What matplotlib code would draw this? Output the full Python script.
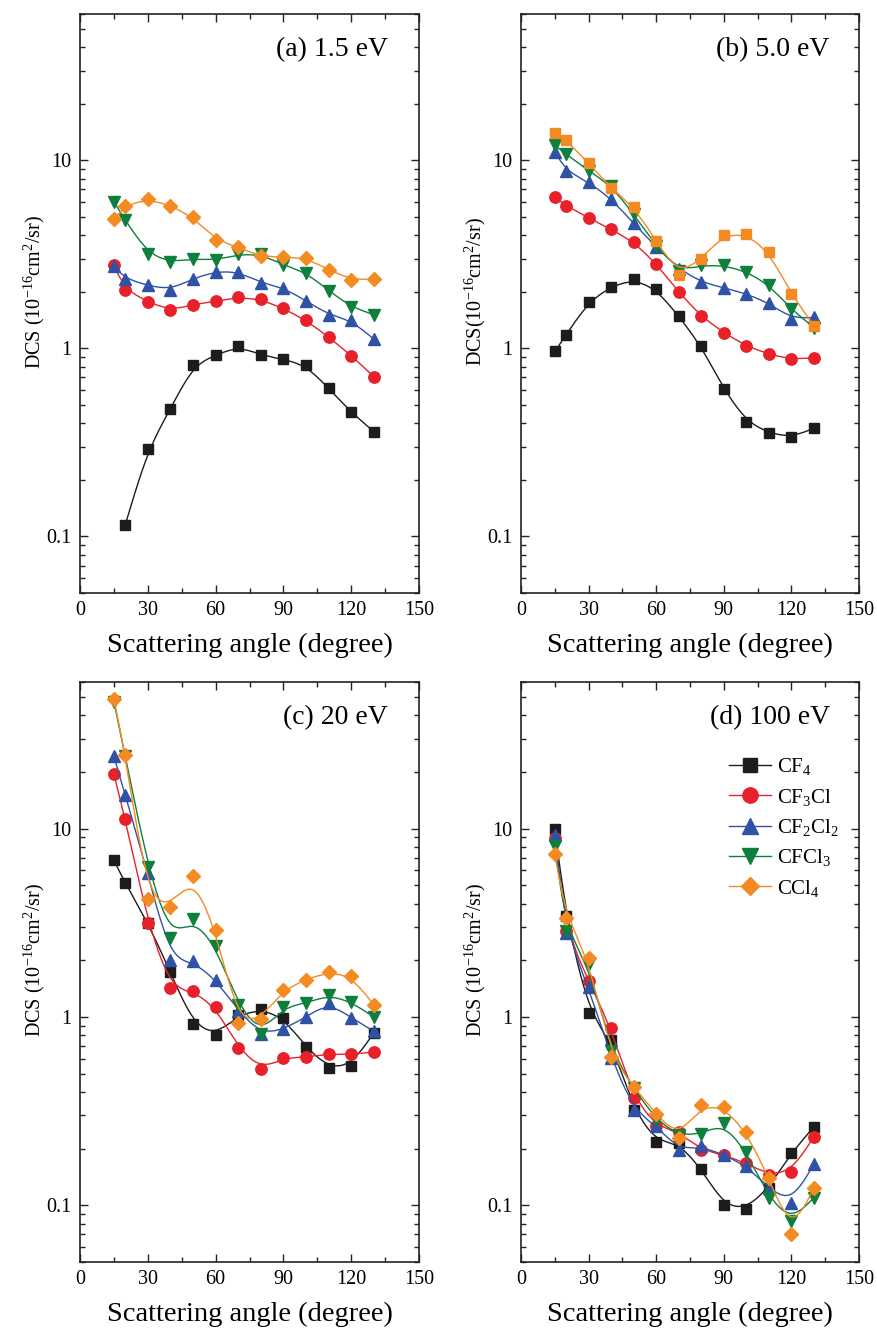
import numpy as np
import matplotlib
matplotlib.use("Agg")
import matplotlib.pyplot as plt
from matplotlib.ticker import FixedLocator, FixedFormatter, NullFormatter

plt.rcParams['font.family'] = ['Liberation Serif', 'DejaVu Serif']
plt.rcParams['mathtext.fontset'] = 'custom'
plt.rcParams['mathtext.rm'] = 'Liberation Serif'
plt.rcParams['mathtext.it'] = 'Liberation Serif:italic'
plt.rcParams['mathtext.bf'] = 'Liberation Serif:bold'

# ---------------- data ----------------
angles = [15, 20, 30, 40, 50, 60, 70, 80, 90, 100, 110, 120, 130]
angles_a_cf4 = [20, 30, 40, 50, 60, 70, 80, 90, 100, 110, 120, 130]

species = ['CF$_4$', 'CF$_3$Cl', 'CF$_2$Cl$_2$', 'CFCl$_3$', 'CCl$_4$']
colors = ['#1c1c1c', '#e8202a', '#2f52a6', '#0e7f3c', '#f38a22']
markers = ['s', 'o', '^', 'v', 'D']

# (a) 1.5 eV
a_CF4 = [0.115, 0.291, 0.474, 0.813, 0.919, 1.026, 0.923, 0.874, 0.813, 0.613, 0.457, 0.361]
a_CF3Cl = [2.76, 2.05, 1.77, 1.59, 1.71, 1.78, 1.87, 1.82, 1.63, 1.41, 1.15, 0.916, 0.708]
a_CF2Cl2 = [2.73, 2.35, 2.16, 2.05, 2.35, 2.56, 2.56, 2.23, 2.10, 1.79, 1.51, 1.41, 1.12]
a_CFCl3 = [6.02, 4.81, 3.19, 2.87, 3.00, 2.94, 3.16, 3.16, 2.78, 2.53, 2.03, 1.66, 1.51]
a_CCl4 = [4.88, 5.75, 6.23, 5.75, 4.98, 3.79, 3.44, 3.09, 3.05, 3.02, 2.62, 2.32, 2.33]

# (b) 5.0 eV
b_CF4 = [0.963, 1.18, 1.77, 2.13, 2.33, 2.07, 1.48, 1.03, 0.606, 0.408, 0.355, 0.336, 0.376]
b_CF3Cl = [6.36, 5.75, 4.94, 4.30, 3.68, 2.82, 1.99, 1.48, 1.21, 1.03, 0.931, 0.874, 0.892]
b_CF2Cl2 = [11.09, 8.80, 7.65, 6.25, 4.62, 3.46, 2.65, 2.25, 2.10, 1.95, 1.74, 1.44, 1.46]
b_CFCl3 = [12.0, 10.8, 8.80, 7.34, 5.17, 3.51, 2.58, 2.76, 2.76, 2.56, 2.18, 1.61, 1.29]
b_CCl4 = [13.98, 12.8, 9.65, 7.12, 5.65, 3.74, 2.45, 3.00, 4.02, 4.05, 3.27, 1.94, 1.32]

# (c) 20 eV
c_CF4 = [6.77, 5.14, 3.17, 1.73, 0.917, 0.797, 1.02, 1.10, 0.991, 0.690, 0.536, 0.552, 0.822]
c_CF3Cl = [19.5, 11.2, 3.17, 1.42, 1.37, 1.13, 0.687, 0.526, 0.605, 0.613, 0.635, 0.632, 0.652]
c_CF2Cl2 = [24.2, 15.1, 5.78, 2.01, 1.97, 1.58, 1.08, 0.811, 0.858, 1.0, 1.19, 0.991, 0.84]
c_CFCl3 = [47.2, 24.2, 6.26, 2.61, 3.32, 2.39, 1.16, 0.811, 1.13, 1.18, 1.31, 1.20, 1.0]
c_CCl4 = [48.7, 24.7, 4.22, 3.84, 5.61, 2.91, 0.929, 0.978, 1.39, 1.58, 1.73, 1.65, 1.16]

# (d) 100 eV
d_CF4 = [9.9, 3.44, 1.05, 0.753, 0.321, 0.217, 0.215, 0.156, 0.0998, 0.0955, 0.124, 0.190, 0.261]
d_CF3Cl = [8.87, 2.85, 1.56, 0.87, 0.371, 0.264, 0.245, 0.197, 0.185, 0.167, 0.145, 0.151, 0.231]
d_CF2Cl2 = [9.27, 2.79, 1.45, 0.605, 0.321, 0.264, 0.197, 0.206, 0.185, 0.162, 0.123, 0.103, 0.1655]
d_CFCl3 = [8.13, 2.85, 1.91, 0.661, 0.418, 0.284, 0.235, 0.239, 0.273, 0.192, 0.110, 0.0823, 0.110]
d_CCl4 = [7.29, 3.37, 2.06, 0.613, 0.427, 0.304, 0.229, 0.339, 0.331, 0.245, 0.140, 0.0704, 0.124]

panel_titles = ['(a) 1.5 eV', '(b) 5.0 eV', '(c) 20 eV', '(d) 100 eV']
ylabels = ['DCS (10$^{-16}$cm$^{2}$/sr)', 'DCS(10$^{-16}$cm$^{2}$/sr)',
           'DCS (10$^{-16}$cm$^{2}$/sr)', 'DCS (10$^{-16}$cm$^{2}$/sr)']
xlabel = 'Scattering angle (degree)'
xticks = [0, 30, 60, 90, 120, 150]
yticks = [0.1, 1, 10]
ytick_labels = ['0.1', '1', '10']


def bspline(x, y, n=30):
    """Uniform cubic B-spline (Origin-style) in (x, log y) space."""
    P = np.column_stack([np.asarray(x, float), np.log10(np.asarray(y, float))])
    P = np.vstack([2 * P[0] - P[1], P, 2 * P[-1] - P[-2]])
    t = np.linspace(0, 1, n)[:, None]
    b0 = (1 - t) ** 3 / 6
    b1 = (3 * t ** 3 - 6 * t ** 2 + 4) / 6
    b2 = (-3 * t ** 3 + 3 * t ** 2 + 3 * t + 1) / 6
    b3 = t ** 3 / 6
    segs = []
    for i in range(len(P) - 3):
        segs.append(b0 * P[i] + b1 * P[i + 1] + b2 * P[i + 2] + b3 * P[i + 3])
    C = np.vstack(segs)
    return C[:, 0], 10 ** C[:, 1]


W, H = 877, 1328
fig = plt.figure(figsize=(W / 100, H / 100), dpi=100)

boxes = [(80, 14, 339, 579), (521, 14, 338, 579), (80, 682, 339, 580), (521, 682, 338, 580)]
panels = [
    [(angles_a_cf4, a_CF4), (angles, a_CF3Cl), (angles, a_CF2Cl2), (angles, a_CFCl3), (angles, a_CCl4)],
    [(angles, b_CF4), (angles, b_CF3Cl), (angles, b_CF2Cl2), (angles, b_CFCl3), (angles, b_CCl4)],
    [(angles, c_CF4), (angles, c_CF3Cl), (angles, c_CF2Cl2), (angles, c_CFCl3), (angles, c_CCl4)],
    [(angles, d_CF4), (angles, d_CF3Cl), (angles, d_CF2Cl2), (angles, d_CFCl3), (angles, d_CCl4)],
]
title_x = [0.909, 0.911, 0.909, 0.914]

for k, (box, series) in enumerate(zip(boxes, panels)):
    l, t, w, h = box
    ax = fig.add_axes([l / W, 1 - (t + h) / H, w / W, h / H])
    handles = []
    for j, (xs, ys) in enumerate(series):
        mk = markers[j]
        if k == 1 and j == 4:
            mk = 's'
        ms = {'s': 7.4, 'o': 8.2, '^': 8.8, 'v': 8.8, 'D': 6.8}[mk]
        cx, cy = bspline(xs, ys)
        ax.plot(cx, cy, '-', color=colors[j], lw=1.0, zorder=2 + j)
        ax.plot(xs, ys, linestyle='none', marker=mk, ms=ms, color=colors[j],
                mec=colors[j], zorder=2.5 + j)
        handles.append(plt.Line2D([], [], color=colors[j], lw=1.0, marker=markers[j],
                                  ms={'s': 10, 'o': 11, '^': 11.5, 'v': 11.5, 'D': 9}[markers[j]],
                                  mec=colors[j]))
    ax.set_yscale('log')
    ax.set_xlim(0, 150)
    ax.set_ylim(0.05, 60)
    ax.xaxis.set_major_locator(FixedLocator(xticks))
    ax.xaxis.set_minor_locator(FixedLocator([15, 45, 75, 105, 135]))
    ax.yaxis.set_major_locator(FixedLocator(yticks))
    ax.yaxis.set_major_formatter(FixedFormatter(ytick_labels))
    ax.yaxis.set_minor_formatter(NullFormatter())
    ax.tick_params(which='both', direction='in', top=True, right=True, labelsize=14.5,
                   width=1.0, color='#222222')
    ax.tick_params(which='major', length=6, pad=6)
    ax.tick_params(which='minor', length=3.5)
    for sp in ax.spines.values():
        sp.set_linewidth(1.2)
        sp.set_color('#222222')
    ax.set_xlabel(xlabel, fontsize=20.5, labelpad=9)
    ax.set_ylabel(ylabels[k], fontsize=14.5)
    ax.yaxis.set_label_coords(-33.0 / w, 0.52)
    ax.text(title_x[k], 0.938, panel_titles[k], transform=ax.transAxes, ha='right',
            va='center', fontsize=20)
    if k == 3:
        ax.legend(handles, species, loc='upper left', bbox_to_anchor=(0.615, 0.872),
                  frameon=False, fontsize=15, handlelength=2.0, handletextpad=0.3,
                  labelspacing=0.45, borderpad=0, borderaxespad=0)

fig.savefig('out.png', dpi=100)
